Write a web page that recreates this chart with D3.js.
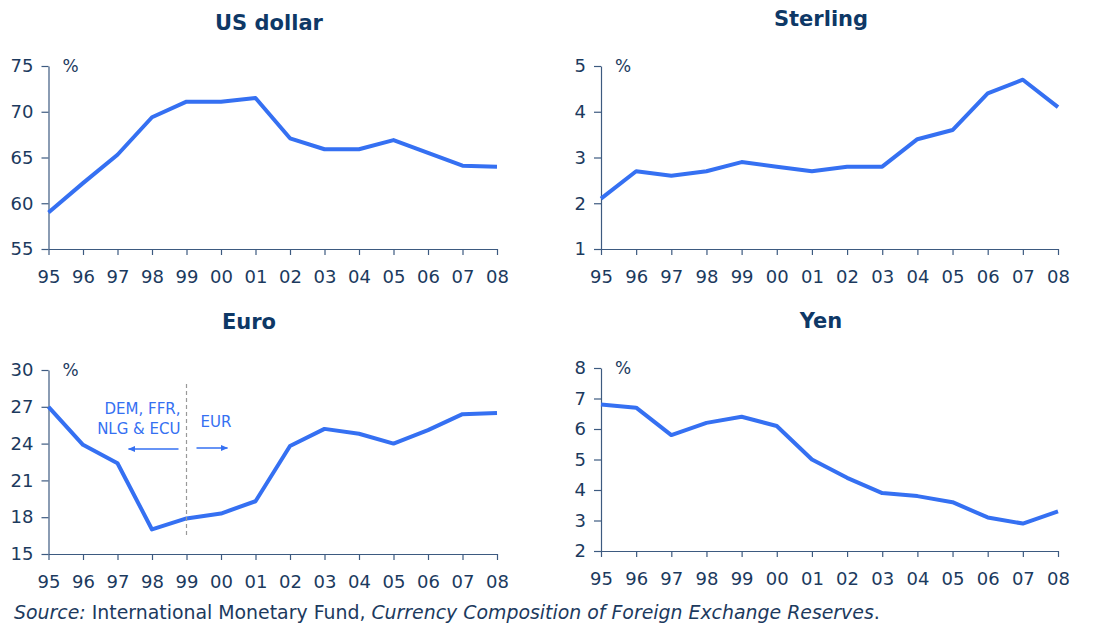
<!DOCTYPE html>
<html>
<head>
<meta charset="utf-8">
<script src="https://cdn.jsdelivr.net/npm/d3@7"></script>
<style>
  body { margin: 0; background: #fff; }
  svg { display: block; font-family: "DejaVu Sans", Verdana, sans-serif; }
  .axis path, .axis line { stroke: #3d5a80; stroke-width: 1.2; }
  .axis text { fill: #1c3a5e; font-size: 18px; font-family: "DejaVu Sans", Verdana, sans-serif; }
</style>
</head>
<body>
<svg id="chart" width="1103" height="624"></svg>
<script>
const years = ["95","96","97","98","99","00","01","02","03","04","05","06","07","08"];

const usDollar = [59.0, 62.2, 65.3, 69.4, 71.1, 71.1, 71.5, 67.1, 65.9, 65.9, 66.9, 65.5, 64.1, 64.0];
const sterling = [2.1, 2.7, 2.6, 2.7, 2.9, 2.8, 2.7, 2.8, 2.8, 3.4, 3.6, 4.4, 4.7, 4.1];
const euro = [27.0, 23.9, 22.4, 17.0, 17.9, 18.3, 19.3, 23.8, 25.2, 24.8, 24.0, 25.1, 26.4, 26.5];
const yen = [6.8, 6.7, 5.8, 6.2, 6.4, 6.1, 5.0, 4.4, 3.9, 3.8, 3.6, 3.1, 2.9, 3.3];

const usTicks = [55, 60, 65, 70, 75];
const sterlingTicks = [1, 2, 3, 4, 5];
const euroTicks = [15, 18, 21, 24, 27, 30];
const yenTicks = [2, 3, 4, 5, 6, 7, 8];

const lineColor = "#3570f2";
const titleColor = "#0e3866";

const svg = d3.select("#chart");

function drawPanel(p) {
    const g = svg.append("g");

    const x = d3.scalePoint()
        .domain(years)
        .range([p.left, p.right]);

    const y = d3.scaleLinear()
        .domain([p.ticks[0], p.ticks[p.ticks.length - 1]])
        .range([p.bottom, p.top]);

    g.append("g")
        .attr("class", "axis")
        .attr("transform", "translate(0," + p.bottom + ")")
        .call(d3.axisBottom(x).tickSize(6).tickSizeOuter(0).tickPadding(15));

    g.append("g")
        .attr("class", "axis")
        .attr("transform", "translate(" + p.left + ",0)")
        .call(d3.axisLeft(y).tickValues(p.ticks).tickFormat(d3.format("d"))
            .tickSize(7).tickSizeOuter(0).tickPadding(8));

    const line = d3.line()
        .x((d, i) => x(years[i]))
        .y(d => y(d));

    g.append("path")
        .datum(p.values)
        .attr("fill", "none")
        .attr("stroke", lineColor)
        .attr("stroke-width", 4)
        .attr("stroke-linejoin", "round")
        .attr("d", line);

    g.append("text")
        .attr("x", p.left + 14)
        .attr("y", p.top + 6)
        .attr("fill", "#1c3a5e")
        .attr("font-size", 17)
        .text("%");

    g.append("text")
        .attr("x", p.titleX)
        .attr("y", p.titleY)
        .attr("text-anchor", "middle")
        .attr("fill", titleColor)
        .attr("font-size", 21)
        .attr("font-weight", "bold")
        .text(p.title);

    return {x: x, y: y, g: g};
}

drawPanel({title: "US dollar", values: usDollar, ticks: usTicks,
    left: 48.5, right: 497, top: 66, bottom: 249, titleX: 269, titleY: 30});
drawPanel({title: "Sterling", values: sterling, ticks: sterlingTicks,
    left: 601, right: 1058, top: 66, bottom: 249, titleX: 821, titleY: 26});
const eu = drawPanel({title: "Euro", values: euro, ticks: euroTicks,
    left: 48.5, right: 497, top: 370, bottom: 554, titleX: 249, titleY: 329});
drawPanel({title: "Yen", values: yen, ticks: yenTicks,
    left: 601, right: 1058, top: 368, bottom: 551, titleX: 821, titleY: 328});

// euro changeover marker
const xs = eu.x("99");
eu.g.append("line")
    .attr("x1", xs).attr("x2", xs)
    .attr("y1", 384).attr("y2", 538)
    .attr("stroke", "#999")
    .attr("stroke-width", 1.2)
    .attr("stroke-dasharray", "4,3");

const defs = svg.append("defs");
defs.append("marker")
    .attr("id", "arrow")
    .attr("viewBox", "0 0 10 10")
    .attr("refX", 9).attr("refY", 5)
    .attr("markerWidth", 5).attr("markerHeight", 5)
    .attr("orient", "auto")
    .append("path")
    .attr("d", "M0,1L10,5L0,9Z")
    .attr("fill", lineColor);

eu.g.append("line")
    .attr("x1", xs - 8).attr("x2", xs - 58)
    .attr("y1", 449).attr("y2", 449)
    .attr("stroke", lineColor).attr("stroke-width", 1.5)
    .attr("marker-end", "url(#arrow)");

eu.g.append("line")
    .attr("x1", xs + 10).attr("x2", xs + 41)
    .attr("y1", 448).attr("y2", 448)
    .attr("stroke", lineColor).attr("stroke-width", 1.5)
    .attr("marker-end", "url(#arrow)");

const note = eu.g.append("text")
    .attr("fill", lineColor)
    .attr("font-size", 15)
    .attr("text-anchor", "end");
note.append("tspan").attr("x", xs - 6).attr("y", 414).text("DEM, FFR,");
note.append("tspan").attr("x", xs - 6).attr("y", 434).text("NLG & ECU");

eu.g.append("text")
    .attr("x", xs + 14).attr("y", 427)
    .attr("fill", lineColor)
    .attr("font-size", 15)
    .text("EUR");

const source = svg.append("text")
    .attr("x", 14)
    .attr("y", 619)
    .attr("fill", "#1c3a5e")
    .attr("font-size", 18.9);
source.append("tspan").attr("font-style", "italic").text("Source:");
source.append("tspan").text(" International Monetary Fund, ");
source.append("tspan").attr("font-style", "italic").text("Currency Composition of Foreign Exchange Reserves");
source.append("tspan").text(".");
</script>
</body>
</html>
